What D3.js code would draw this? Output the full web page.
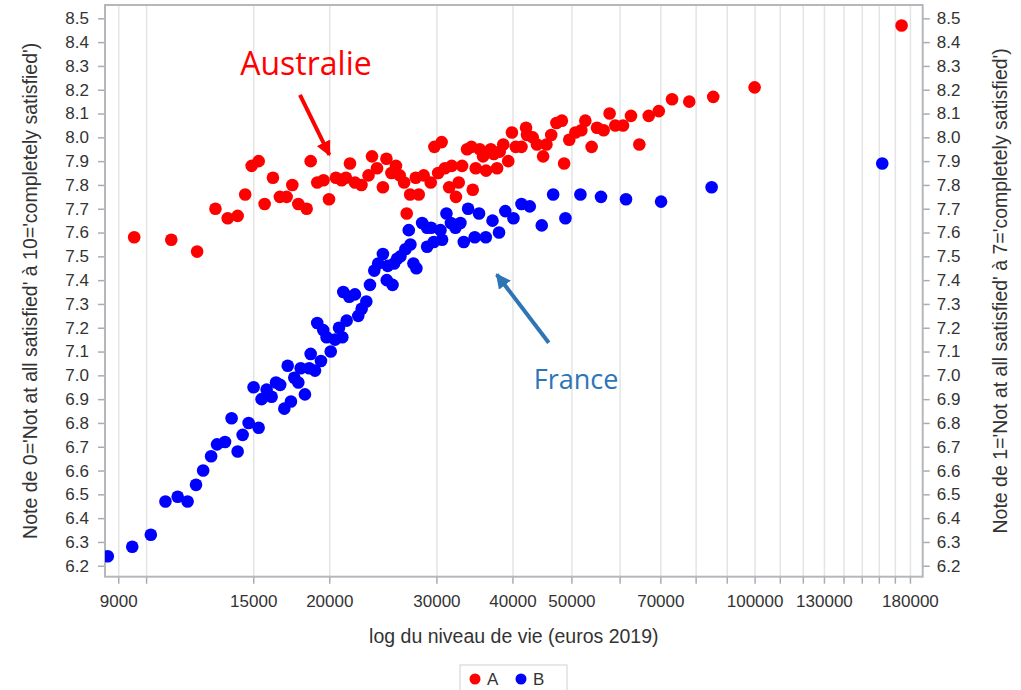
<!DOCTYPE html>
<html>
<head>
<meta charset="utf-8">
<script src="https://cdn.jsdelivr.net/npm/d3@7"></script>
<style>
  body { margin: 0; background: #fff; }
  svg { display: block; font-family: "Liberation Sans", Arial, sans-serif; }
  .axis path { display: none; }
  .axis line { stroke: #a9adb1; stroke-width: 1.5; }
  .axis text { fill: #333; font-size: 17px; }
  .grid path { display: none; }
  .grid line { stroke: #e4e4e4; stroke-width: 1.5; }
  .axis-title { fill: #333; font-size: 19.5px; }
</style>
</head>
<body>
<div id="chart"></div>
<script>
// Australie (A) : [niveau de vie, note]
var australie = [
  [9560, 7.58], [11000, 7.57], [12130, 7.52], [13000, 7.70], [13620, 7.66], [14140, 7.67],
  [14550, 7.76], [14910, 7.88], [15310, 7.90], [15660, 7.72], [16160, 7.83], [16590, 7.75],
  [17020, 7.75], [17390, 7.80], [17790, 7.72], [18360, 7.70], [18640, 7.90], [19110, 7.81],
  [19570, 7.82], [19980, 7.74], [20510, 7.83], [20960, 7.82], [21300, 7.83], [21630, 7.89],
  [22040, 7.81], [22590, 7.80], [23200, 7.84], [23510, 7.92], [23960, 7.87], [24500, 7.79],
  [24830, 7.91], [25300, 7.85], [25740, 7.88], [26110, 7.84], [26550, 7.81], [26810, 7.68],
  [27160, 7.76], [27740, 7.83], [28060, 7.76], [28590, 7.84], [29360, 7.81], [29770, 7.96],
  [30600, 7.98], [30200, 7.85], [30980, 7.87], [31790, 7.88], [33060, 7.88], [31490, 7.79],
  [32640, 7.81], [32300, 7.75], [34420, 7.78], [33690, 7.95], [34250, 7.96], [35340, 7.95],
  [35790, 7.92], [36850, 7.95], [37270, 7.93], [38120, 7.94], [38630, 7.97], [34810, 7.87],
  [36200, 7.86], [37740, 7.87], [39370, 7.90], [39920, 8.02], [40500, 7.96], [41390, 7.96],
  [42110, 8.04], [42270, 8.01], [43190, 8.00], [43890, 7.97], [44920, 7.92], [45490, 7.97],
  [46320, 8.01], [47240, 8.06], [48230, 8.07], [48640, 7.89], [49590, 7.99], [50760, 8.02],
  [51910, 8.03], [52700, 8.07], [53970, 7.96], [55080, 8.04], [56480, 8.03], [57770, 8.10],
  [59030, 8.05], [60780, 8.05], [62640, 8.09], [64650, 7.97], [66990, 8.09], [69580, 8.11],
  [73170, 8.16], [78090, 8.15], [85510, 8.17], [100000, 8.21], [174400, 8.47]
];

// France (B) : [niveau de vie, note]
var france = [
  [8650, 6.24], [9490, 6.28], [10180, 6.33], [10760, 6.47], [11270, 6.49], [11700, 6.47],
  [12080, 6.54], [12410, 6.60], [12790, 6.66], [13080, 6.71], [13480, 6.72], [13820, 6.82],
  [14140, 6.68], [14410, 6.75], [14740, 6.80], [15310, 6.78], [15020, 6.95], [15480, 6.90],
  [15780, 6.94], [16080, 6.91], [16350, 6.97], [16610, 6.96], [16870, 6.86], [17300, 6.89],
  [17090, 7.04], [17520, 6.99], [17790, 6.97], [17950, 7.03], [18240, 6.92], [18540, 7.03],
  [18640, 7.09], [18950, 7.02], [19380, 7.06], [19110, 7.22], [19550, 7.19], [19800, 7.16],
  [20110, 7.10], [20440, 7.15], [20750, 7.20], [21010, 7.16], [21360, 7.23], [21090, 7.35],
  [21570, 7.33], [22040, 7.34], [22320, 7.25], [22610, 7.28], [23010, 7.31], [23330, 7.38],
  [23710, 7.44], [24070, 7.47], [24500, 7.51], [24950, 7.46], [24860, 7.40], [25410, 7.38],
  [25560, 7.47], [25850, 7.49], [26180, 7.50], [26680, 7.53], [27020, 7.61], [27190, 7.55],
  [27500, 7.47], [27810, 7.45], [28420, 7.64], [28960, 7.62], [28960, 7.54], [29400, 7.62],
  [29700, 7.56], [30460, 7.61], [30650, 7.57], [31160, 7.68], [31690, 7.64], [32240, 7.62],
  [32850, 7.64], [33270, 7.56], [33820, 7.70], [34680, 7.58], [35250, 7.68], [36160, 7.58],
  [37090, 7.65], [38020, 7.60], [38930, 7.69], [40150, 7.66], [41390, 7.72], [42710, 7.71],
  [44690, 7.63], [46660, 7.76], [48880, 7.66], [51730, 7.76], [55920, 7.75], [61470, 7.74],
  [70190, 7.73], [84990, 7.79], [162100, 7.89]
];

// x axis: every tick gets a grid line, only some get a label
var xTicks = [9000, 10000, 15000, 20000, 30000, 40000, 50000, 60000, 70000, 80000, 90000,
  100000, 110000, 120000, 130000, 140000, 150000, 160000, 170000, 180000];
var xLabels = [9000, 15000, 20000, 30000, 40000, 50000, 70000, 100000, 130000, 180000];
var yTicks = [6.2, 6.3, 6.4, 6.5, 6.6, 6.7, 6.8, 6.9, 7.0, 7.1, 7.2, 7.3, 7.4, 7.5, 7.6, 7.7,
  7.8, 7.9, 8.0, 8.1, 8.2, 8.3, 8.4, 8.5];

var series = ["A", "B"];
var colors = ["#ff0000", "#0000ff"];

var W = 1021, H = 690;
var margin = {top: 5, left: 105, right: 98.3, bottom: 113.3};
var width = W - margin.left - margin.right,
    height = H - margin.top - margin.bottom;

var svg = d3.select("#chart").append("svg")
  .attr("width", W)
  .attr("height", H);

var g = svg.append("g")
  .attr("transform", "translate(" + margin.left + "," + margin.top + ")");

var x = d3.scaleLog().domain([8560, 188900]).range([0, width]);
var y = d3.scaleLinear().domain([6.154, 8.556]).range([height, 0]);

// grid lines
g.append("g")
  .attr("class", "grid")
  .attr("transform", "translate(0," + height + ")")
  .call(d3.axisBottom(x).tickValues(xTicks).tickSize(-height).tickFormat(""));

// axes
g.append("g")
  .attr("class", "axis")
  .attr("transform", "translate(0," + height + ")")
  .call(d3.axisBottom(x).tickValues(xTicks).tickSize(7).tickPadding(11)
    .tickFormat(function(d) { return xLabels.indexOf(d) >= 0 ? d : ""; }));

g.append("g")
  .attr("class", "axis")
  .call(d3.axisLeft(y).tickValues(yTicks).tickSize(7).tickPadding(9).tickFormat(d3.format(".1f")));

g.append("g")
  .attr("class", "axis")
  .attr("transform", "translate(" + width + ",0)")
  .call(d3.axisRight(y).tickValues(yTicks).tickSize(7).tickPadding(7).tickFormat(d3.format(".1f")));

// frame
g.append("rect")
  .attr("width", width)
  .attr("height", height)
  .attr("fill", "none")
  .attr("stroke", "#b4b8bc")
  .attr("stroke-width", 2);

// points
svg.append("clipPath").attr("id", "plotClip")
  .append("rect").attr("width", width).attr("height", height);

var plot = g.append("g").attr("clip-path", "url(#plotClip)");

[australie, france].forEach(function(data, i) {
  plot.selectAll(".pt" + i)
    .data(data)
    .enter().append("circle")
    .attr("class", "pt" + i)
    .attr("cx", function(d) { return x(d[0]); })
    .attr("cy", function(d) { return y(d[1]); })
    .attr("r", 6.3)
    .attr("fill", colors[i]);
});

// axis titles
svg.append("text")
  .attr("class", "axis-title")
  .attr("x", margin.left + width / 2)
  .attr("y", 643)
  .attr("text-anchor", "middle")
  .text("log du niveau de vie (euros 2019)");

svg.append("text")
  .attr("class", "axis-title")
  .attr("transform", "translate(37," + (margin.top + height / 2) + ") rotate(-90)")
  .attr("text-anchor", "middle")
  .text("Note de 0='Not at all satisfied' à 10='completely satisfied')");

svg.append("text")
  .attr("class", "axis-title")
  .attr("transform", "translate(1007," + (margin.top + height / 2) + ") rotate(-90)")
  .attr("text-anchor", "middle")
  .text("Note de 1='Not at all satisfied' à 7='completely satisfied')");

// annotations (positions in data units)
var notes = [
  {text: "Australie", color: "#ff0000", size: 32, at: [14280, 8.262], from: [17900, 8.178], to: [20010, 7.926]},
  {text: "France", color: "#2e75b6", size: 27, at: [43350, 6.941], from: [45890, 7.137], to: [37690, 7.424]}
];

var defs = svg.append("defs");
notes.forEach(function(n, i) {
  defs.append("marker")
    .attr("id", "head" + i)
    .attr("viewBox", "0 0 10 10")
    .attr("refX", 9).attr("refY", 5)
    .attr("markerUnits", "userSpaceOnUse")
    .attr("markerWidth", 15).attr("markerHeight", 15)
    .attr("orient", "auto")
    .append("path")
    .attr("d", "M0,0 L10,5 L0,10 z")
    .attr("fill", n.color);

  g.append("line")
    .attr("x1", x(n.from[0])).attr("y1", y(n.from[1]))
    .attr("x2", x(n.to[0])).attr("y2", y(n.to[1]))
    .attr("stroke", n.color)
    .attr("stroke-width", 4)
    .attr("marker-end", "url(#head" + i + ")");

  g.append("text")
    .attr("x", x(n.at[0]))
    .attr("y", y(n.at[1]))
    .attr("fill", n.color)
    .style("font-family", "'Open Sans', 'Noto Sans', sans-serif")
    .style("font-size", n.size + "px")
    .text(n.text);
});

// legend
var legend = svg.append("g").attr("transform", "translate(460,665)");
legend.append("rect")
  .attr("width", 107).attr("height", 30)
  .attr("fill", "#fff")
  .attr("stroke", "#d0d0d0");

var item = legend.selectAll(".item")
  .data(series)
  .enter().append("g")
  .attr("transform", function(d, i) { return "translate(" + (15 + i * 46) + ",14)"; });

item.append("circle").attr("r", 5.5).attr("fill", function(d, i) { return colors[i]; });
item.append("text")
  .attr("x", 12).attr("y", 6)
  .attr("fill", "#333")
  .style("font-size", "17px")
  .text(function(d) { return d; });
</script>
</body>
</html>
